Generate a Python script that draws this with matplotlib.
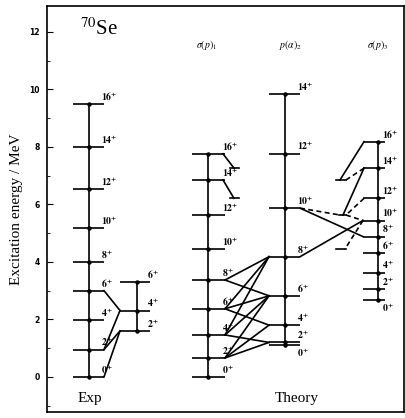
import matplotlib
matplotlib.use("Agg")
import matplotlib.pyplot as plt
from matplotlib.ticker import MultipleLocator

plt.rcParams['mathtext.fontset'] = 'stix'

# ---------------- data (MeV) ----------------
exp_spins = [0, 2, 4, 6, 8, 10, 12, 14, 16]
exp_gsb = [0.0, 0.95, 1.98, 3.0, 4.0, 5.18, 6.54, 8.0, 9.5]
exp2_spins = [2, 4, 6]
exp2_band = [1.6, 2.31, 3.3]

sig1_spins = [0, 2, 4, 6, 8, 10, 12, 14, 16]
sig1_band = [0.0, 0.66, 1.46, 2.37, 3.37, 4.45, 5.63, 6.85, 7.76]
pa2_spins = [0, 2, 4, 6, 8, 10, 12, 14]
pa2_band = [1.1, 1.2, 1.8, 2.82, 4.18, 5.87, 7.77, 9.84]
sig3_spins = [0, 2, 4, 6, 8, 10, 12, 14, 16]
sig3_band = [2.68, 3.05, 3.63, 4.3, 4.88, 5.44, 6.21, 7.26, 8.18]

# band-mixing links (spin pairs)
exp_links = [(6, 4), (2, 4), (2, 2), (0, 2)]            # (gsb spin, band2 spin)
sig_pa_links = [(8, 8), (8, 6), (6, 8), (6, 6), (6, 4),
                (4, 8), (4, 6), (4, 2), (2, 6), (2, 4), (2, 2)]

# ---------------- layout (x in axis units ~ pixels) ----------------
X = {
    'exp': (73, 104, 89),
    'exp2': (120, 150, 137),
    'sig1': (192, 225, 208),
    'pa2': (269, 300, 285),
    'sig3': (363, 385, 378),
}
below_labels = {('pa2', 0), ('sig3', 0)}

fig = plt.figure(figsize=(4.06, 4.18), dpi=100)
ax = fig.add_axes([47 / 406, 6 / 418, 357 / 406, 406 / 418])
ax.set_xlim(47, 404)
ax.set_ylim(-1.22, 12.9)

lw = 1.2


def label(key, x, y, s):
    below = (key, s) in below_labels
    ax.text(x - 3, y + (-0.04 if below else 0.04), r"$\mathbf{%d}^{\mathbf{+}}$" % s,
            fontsize=7, ha='left', va='top' if below else 'bottom', color='black')


def band(key, spins, energies):
    x0, x1, vx = X[key]
    for s, e in zip(spins, energies):
        ax.plot([x0, x1], [e, e], color='black', lw=lw, solid_capstyle='butt')
        label(key, x1, e, s)
    ax.plot([vx, vx], [min(energies), max(energies)], color='black', lw=lw)
    ax.plot([vx] * len(energies), energies, 'o', color='black', ms=2.2)


band('exp', exp_spins, exp_gsb)
band('exp2', exp2_spins, exp2_band)
band('sig1', sig1_spins, sig1_band)
band('pa2', pa2_spins, pa2_band)
band('sig3', sig3_spins, sig3_band)

E = lambda sp, en: dict(zip(sp, en))
eg, e2 = E(exp_spins, exp_gsb), E(exp2_spins, exp2_band)
s1, p2, s3 = E(sig1_spins, sig1_band), E(pa2_spins, pa2_band), E(sig3_spins, sig3_band)

for a, b in exp_links:
    ax.plot([X['exp'][1], X['exp2'][0]], [eg[a], e2[b]], color='black', lw=lw)
for a, b in sig_pa_links:
    ax.plot([X['sig1'][1], X['pa2'][0]], [s1[a], p2[b]], color='black', lw=lw)

# crossing stubs near sigma(p)_1 (sigma(p)_3 levels)
for a, b in [(16, 14), (14, 12)]:
    ax.plot([X['sig1'][1] - 2, 234], [s1[a], s3[b]], color='black', lw=lw)
    ax.plot([230, 239], [s3[b], s3[b]], color='black', lw=lw)

# crossing region near sigma(p)_3
sx = X['sig3'][0]
px = X['pa2'][1]
dash = (0, (3, 2))
ax.plot([sx + 1, 340], [s3[16], s1[14]], color='black', lw=lw)
ax.plot([336, 346], [s1[14], s1[14]], color='black', lw=lw)
ax.plot([sx + 1, 346], [s3[14], s1[14]], color='black', lw=lw, ls=dash)
ax.plot([sx + 1, 343], [s3[14], s1[12]], color='black', lw=lw)
ax.plot([sx + 1, 346], [s3[12], s1[12]], color='black', lw=lw, ls=dash)
ax.plot([339, 346], [s1[12], s1[12]], color='black', lw=lw)
ax.plot([px, 340], [p2[10], s1[12]], color='black', lw=lw, ls=dash)
ax.plot([346, sx], [s1[12], s3[10]], color='black', lw=lw, ls=dash)
ax.plot([px, sx], [p2[10], s3[8]], color='black', lw=lw)
ax.plot([px, sx], [p2[8], s3[10]], color='black', lw=lw)
ax.plot([sx, 345], [s3[10], s1[10]], color='black', lw=lw, ls=dash)
ax.plot([336, 346], [s1[10], s1[10]], color='black', lw=lw)

# texts
ax.text(80, 12.1, r"$^{70}$Se", fontsize=15, family='Liberation Serif', ha='left', va='center')
ax.text(207, 11.55, r"$\sigma(p)_1$", fontsize=7, ha='center', va='center')
ax.text(290, 11.55, r"$p(\alpha)_2$", fontsize=7, ha='center', va='center')
ax.text(378, 11.55, r"$\sigma(p)_3$", fontsize=7, ha='center', va='center')
ax.text(90, -0.75, "Exp", fontsize=11, family='Liberation Serif', ha='center', va='center')
ax.text(297, -0.75, "Theory", fontsize=11, family='Liberation Serif', ha='center', va='center')

ax.set_ylabel("Excitation energy / MeV", fontsize=11, family='Liberation Serif', labelpad=5)
ax.set_yticks([0, 2, 4, 6, 8, 10, 12])
ax.yaxis.set_minor_locator(MultipleLocator(1))
ax.set_xticks([])
ax.tick_params(axis='y', direction='in', length=4, width=0.8, labelsize=5.5, pad=5)
ax.tick_params(axis='y', which='minor', direction='in', length=2, width=0.6)
for t in ax.get_yticklabels():
    t.set_fontweight('bold')
for sp in ax.spines.values():
    sp.set_linewidth(1.2)

fig.savefig("out.png", dpi=100)
